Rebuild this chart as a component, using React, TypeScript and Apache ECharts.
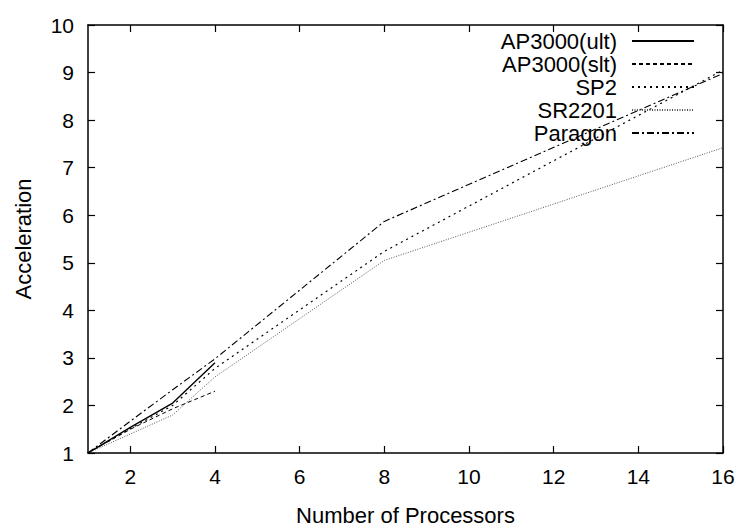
import React, { useEffect, useRef } from "react";
import * as echarts from "echarts";

const procsShort = [1, 2, 3, 4];
const procsLong = [1, 2, 3, 4, 8, 16];
const ap3000Ult = [1, 1.54, 2.05, 2.9];
const ap3000Slt = [1, 1.5, 1.93, 2.3];
const sp2 = [1, 1.51, 2.0, 2.78, 5.24, 9.05];
const sr2201 = [1, 1.4, 1.8, 2.6, 5.05, 7.42];
const paragon = [1, 1.67, 2.33, 2.98, 5.87, 8.98];
const xTicks = [2, 4, 6, 8, 10, 12, 14, 16];

const FONT = "'Liberation Sans', Arial, Helvetica, sans-serif";

const pairs = (xs: number[], ys: number[]) => ys.map((y, i) => [xs[i], y]);

export default function App() {
  const ref = useRef<HTMLDivElement>(null);
  useEffect(() => {
    if (!ref.current) return;
    const chart = echarts.init(ref.current, undefined, { renderer: "svg" });
    const mk = (name: string, data: number[][], type: any, width = 1.1, color = "#000") => ({
      name,
      type: "line",
      data,
      symbol: "none",
      lineStyle: { color, width, type },
      itemStyle: { color },
      xAxisIndex: 0,
      yAxisIndex: 0,
    });
    const tickStyle = { show: true, inside: true, length: 7, lineStyle: { color: "#000", width: 1.2 } };
    chart.setOption({
      animation: false,
      backgroundColor: "#fff",
      grid: { left: 88, right: 15, top: 25, bottom: 68, containLabel: false },
      xAxis: [
        {
          type: "value",
          min: 1,
          max: 16,
          name: "Number of Processors",
          nameLocation: "middle",
          nameGap: 51,
          nameTextStyle: { fontFamily: FONT, fontSize: 22, color: "#000" },
          axisLine: { show: true, onZero: false, lineStyle: { color: "#000", width: 1.5 } },
          axisTick: { ...tickStyle, customValues: xTicks },
          axisLabel: { customValues: xTicks, fontFamily: FONT, fontSize: 21, color: "#000", margin: 13 },
          splitLine: { show: false },
        },
        {
          type: "value",
          position: "top",
          min: 1,
          max: 16,
          axisLine: { show: true, onZero: false, lineStyle: { color: "#000", width: 1.5 } },
          axisTick: { ...tickStyle, customValues: xTicks },
          axisLabel: { show: false },
          splitLine: { show: false },
        },
      ],
      yAxis: [
        {
          type: "value",
          min: 1,
          max: 10,
          interval: 1,
          name: "Acceleration",
          nameLocation: "middle",
          nameGap: 54,
          nameTextStyle: { fontFamily: FONT, fontSize: 22, color: "#000" },
          axisLine: { show: true, onZero: false, lineStyle: { color: "#000", width: 1.5 } },
          axisTick: tickStyle,
          axisLabel: { fontFamily: FONT, fontSize: 21, color: "#000", margin: 14 },
          splitLine: { show: false },
        },
        {
          type: "value",
          position: "right",
          min: 1,
          max: 10,
          interval: 1,
          axisLine: { show: true, onZero: false, lineStyle: { color: "#000", width: 1.5 } },
          axisTick: tickStyle,
          axisLabel: { show: false },
          splitLine: { show: false },
        },
      ],
      legend: {
        orient: "vertical",
        right: 43,
        top: 30,
        padding: 0,
        align: "right",
        itemWidth: 62,
        itemHeight: 10,
        itemGap: 1,
        itemStyle: { opacity: 0 },
        textStyle: { fontFamily: FONT, fontSize: 22, color: "#000", padding: [0, 10, 0, 0] },
        data: ["AP3000(ult)", "AP3000(slt)", "SP2", "SR2201", "Paragon"],
      },
      series: [
        mk("AP3000(ult)", pairs(procsShort, ap3000Ult), "solid", 1.4),
        mk("AP3000(slt)", pairs(procsShort, ap3000Slt), [4, 3], 1.0),
        mk("SP2", pairs(procsLong, sp2), [2, 4], 1.2),
        mk("SR2201", pairs(procsLong, sr2201), [1, 1.5], 1.0, "#555"),
        mk("Paragon", pairs(procsLong, paragon), [7, 3, 2, 3], 1.1),
      ],
    });
    return () => chart.dispose();
  }, []);
  return <div ref={ref} style={{ width: 738, height: 531, position: "absolute", left: 0, top: 0 }} />;
}
